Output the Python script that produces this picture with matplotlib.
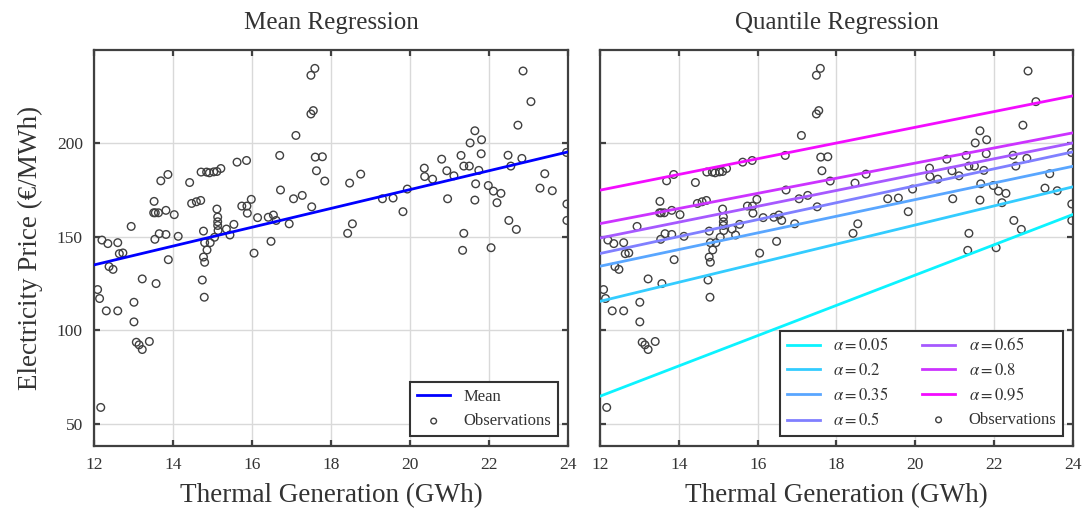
import numpy as np
import matplotlib
matplotlib.use("Agg")
import matplotlib.pyplot as plt

# Observations: thermal generation (GWh) and electricity price (EUR/MWh)
thermal_gwh = [
    12.20, 12.35, 12.60, 12.94, 12.64, 12.73, 12.38, 12.48, 12.09, 12.14,
    12.31, 12.60, 13.01, 13.01, 13.22, 13.57, 13.07, 13.14, 13.22, 13.40,
    12.17, 13.52, 13.51, 13.55, 13.63, 13.69, 13.87, 13.82, 14.03, 13.54,
    13.65, 13.82, 13.88, 14.13, 14.42, 14.47, 14.59, 14.70, 14.77, 14.80,
    14.86, 14.94, 14.77, 14.80, 14.74, 14.79,
    14.71, 14.85, 14.92, 15.03, 15.11, 15.21,
    15.11, 15.13, 15.13, 15.13, 15.14, 15.05, 15.35, 15.44, 15.54, 15.62,
    15.86, 15.74, 15.87, 15.88, 15.98, 16.05, 16.14, 16.41, 16.54, 16.61,
    16.48, 16.70, 16.72, 16.94, 17.05, 17.27, 17.11, 17.49, 17.59, 17.49,
    17.55, 17.60, 17.78, 17.63, 17.84, 17.51,
    18.47, 18.75, 18.54, 18.42, 19.30, 19.57, 19.82, 19.93, 20.36, 20.37,
    20.57, 20.80, 20.93, 20.95,
    21.11, 21.29, 21.36, 21.50, 21.52, 21.64, 21.81, 21.80, 21.74, 21.66,
    21.64, 21.36, 21.33, 21.98, 22.11, 22.30, 22.20, 22.05, 22.48, 22.55,
    22.83, 22.73, 23.06, 22.86, 22.50, 22.69, 23.41, 23.29, 23.60, 23.96,
    23.97, 23.97,
]
price_eur_mwh = [
    148.3, 146.4, 146.9, 155.6, 141.0, 141.4, 134.1, 132.6, 121.8, 117.0,
    110.4, 110.4, 115.0, 104.5, 127.5, 125.0, 93.6, 92.2, 89.7, 94.0,
    58.7, 169.0, 162.9, 162.9, 162.9, 180.0, 183.4, 164.2, 161.9, 148.7,
    151.7, 151.3, 137.8, 150.3, 179.1, 167.9, 168.8, 169.5, 153.1, 146.9,
    143.0, 146.9, 139.2, 136.4, 126.9, 117.7,
    184.7, 184.7, 184.3, 184.8, 185.0, 186.6,
    164.9, 160.6, 158.1, 156.1, 153.4, 149.8, 154.2, 151.0, 156.7, 190.0,
    190.9, 166.5, 166.5, 162.7, 170.1, 141.3, 160.3, 160.5, 161.7, 158.8,
    147.6, 193.6, 175.1, 157.0, 170.4, 172.2, 204.3, 236.5, 240.2, 215.8,
    217.6, 192.7, 192.9, 185.4, 179.9, 166.1,
    178.8, 183.6, 157.0, 151.9, 170.4, 170.8, 163.5, 175.6, 186.8, 182.3,
    180.9, 191.6, 185.4, 170.4,
    182.7, 193.6, 187.9, 187.9, 200.3, 206.8, 202.0, 194.5, 185.6, 178.4,
    169.7, 151.9, 142.8, 177.5, 174.5, 173.3, 168.3, 144.2, 193.7, 187.9,
    192.0, 209.8, 222.4, 238.8, 158.8, 154.0, 183.8, 176.1, 174.7, 195.2,
    167.6, 158.8,
]

# Fitted lines, evaluated at the ends of the generation range
x_ends = [12, 24]
mean_fit = [135.0, 195.5]
quantile_levels = [0.05, 0.2, 0.35, 0.5, 0.65, 0.8, 0.95]
quantile_fits = [
    [64.7, 162.0],
    [115.5, 176.8],
    [134.3, 187.8],
    [141.1, 195.5],
    [149.4, 200.3],
    [157.1, 205.7],
    [175.0, 225.5],
]

x_ticks = [12, 14, 16, 18, 20, 22, 24]
y_ticks = [50, 100, 150, 200]

text_color = "#333333"
spine_color = "#404040"

plt.rcParams["font.family"] = ["Liberation Serif", "DejaVu Serif"]
plt.rcParams["mathtext.fontset"] = "stix"
plt.rcParams["text.color"] = text_color
plt.rcParams["axes.labelcolor"] = text_color
plt.rcParams["xtick.color"] = spine_color
plt.rcParams["ytick.color"] = spine_color
plt.rcParams["xtick.labelcolor"] = text_color
plt.rcParams["ytick.labelcolor"] = text_color

fig = plt.figure(figsize=(10.86, 5.11), dpi=100)
ax_mean = fig.add_axes([0.0866, 0.127, 0.4365, 0.775])
ax_quant = fig.add_axes([0.5525, 0.127, 0.4355, 0.775])


def style_axes(ax, title):
    ax.set_xlim(12, 24)
    ax.set_ylim(38, 250)
    ax.set_xticks(x_ticks)
    ax.set_yticks(y_ticks)
    ax.grid(True, color="#d9d9d9", linewidth=1.0)
    ax.set_axisbelow(True)
    for sp in ax.spines.values():
        sp.set_color(spine_color)
        sp.set_linewidth(1.6)
    ax.tick_params(direction="in", top=True, right=True, length=4.5,
                   width=1.6, labelsize=12.5, pad=8)
    ax.set_title(title, fontsize=18, pad=15, color=text_color)
    ax.set_xlabel("Thermal Generation (GWh)", fontsize=19.5, labelpad=7)


def scatter_obs(ax):
    return ax.scatter(thermal_gwh, price_eur_mwh, s=30, facecolors="none",
                      edgecolors="#404040", linewidths=1.0,
                      label="Observations", zorder=3)


def legend_frame(leg):
    fr = leg.get_frame()
    fr.set_edgecolor("#333333")
    fr.set_linewidth(1.5)
    fr.set_boxstyle("square", pad=0)


# Left: ordinary least squares line
style_axes(ax_mean, "Mean Regression")
ax_mean.set_ylabel("Electricity Price (€/MWh)", fontsize=19.5, labelpad=10)
ax_mean.plot(x_ends, mean_fit, color="#0000ff", linewidth=2.0, label="Mean",
             zorder=4)
scatter_obs(ax_mean)
leg = ax_mean.legend(loc="lower right", fontsize=12, fancybox=False,
                     framealpha=1, borderaxespad=0.6, markerscale=0.75,
                     handlelength=2.0)
legend_frame(leg)

# Right: family of quantile regression lines
style_axes(ax_quant, "Quantile Regression")
ax_quant.tick_params(labelleft=False)
cmap = plt.get_cmap("cool")
for q, fit in zip(quantile_levels, quantile_fits):
    ax_quant.plot(x_ends, fit, color=cmap(q), linewidth=2.0,
                  label=rf"$\alpha = {q:g}$", zorder=4)
scatter_obs(ax_quant)
leg = ax_quant.legend(loc="lower right", ncol=2, fontsize=12, fancybox=False,
                      framealpha=1, borderaxespad=0.6, markerscale=0.75,
                      handlelength=2.0, columnspacing=2.0)
legend_frame(leg)

fig.savefig("out.png", dpi=100)
